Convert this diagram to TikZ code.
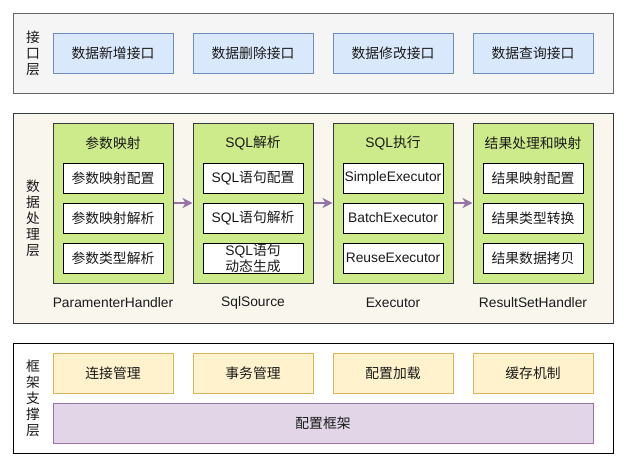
\documentclass[tikz,border=0pt]{standalone}
\usepackage{fontspec}
\setmainfont{Liberation Sans}
\newfontfamily\cjk{Noto Sans CJK SC}
\usetikzlibrary{arrows.meta}
\definecolor{pgrayfill}{HTML}{F5F5F5}
\definecolor{pgraydraw}{HTML}{666666}
\definecolor{pcream}{HTML}{F9F7ED}
\definecolor{pdark}{HTML}{36393D}
\definecolor{bluefill}{HTML}{DAE8FC}
\definecolor{bluedraw}{HTML}{6C8EBF}
\definecolor{greenfill}{HTML}{CDEB8B}
\definecolor{yelfill}{HTML}{FFF2CC}
\definecolor{yeldraw}{HTML}{D6B656}
\definecolor{purfill}{HTML}{E1D5E7}
\definecolor{purdraw}{HTML}{9673A6}
\definecolor{txt}{HTML}{1A1A1A}
\begin{document}
\begin{tikzpicture}[x=1pt,y=-1pt,
  every node/.style={font=\fontsize{13.8}{16}\selectfont, text=txt, inner sep=0pt, align=center},
  side/.style={font=\fontsize{13.8}{16}\selectfont\cjk},
  panel/.style={rectangle, line width=1pt, minimum width=600pt},
  ifbox/.style={rectangle, draw=bluedraw, fill=bluefill, line width=1pt, minimum width=120pt, minimum height=40pt},
  grbox/.style={rectangle, draw=pdark, fill=greenfill, line width=1pt, minimum width=120pt, minimum height=160pt},
  wbox/.style={rectangle, draw=black, fill=white, line width=1pt, minimum width=100pt, minimum height=30pt},
  ybox/.style={rectangle, draw=yeldraw, fill=yelfill, line width=1pt, minimum width=120pt, minimum height=40pt},
  arr/.style={draw=purdraw, line width=2pt, -{Stealth[length=10pt,width=10pt,inset=3pt]}}
]
\useasboundingbox (0,0) rectangle (627,467);
% panels
\node[panel, fill=pgrayfill, draw=pgraydraw, minimum height=80pt] (p1) at (313,53) {};
\node[panel, fill=pcream, draw=pdark, minimum height=210pt] (p2) at (313,218) {};
\node[panel, fill=white, draw=black, minimum height=110pt] (p3) at (313,398) {};
% side labels
\node[side] (l1) at (33,53) {接\\口\\层};
\node[side] (l2) at (33,218) {数\\据\\处\\理\\层};
\node[side] (l3) at (33,398) {框\\架\\支\\撑\\层};
% interface layer
\node[ifbox] (i1) at (113,53) {\cjk 数据新增接口};
\node[ifbox] (i2) at (253,53) {\cjk 数据删除接口};
\node[ifbox] (i3) at (393,53) {\cjk 数据修改接口};
\node[ifbox] (i4) at (533,53) {\cjk 数据查询接口};
% processing layer
\node[grbox] (g1) at (113,203) {};
\node[grbox] (g2) at (253,203) {};
\node[grbox] (g3) at (393,203) {};
\node[grbox] (g4) at (533,203) {};
\node (t1) at (113,143) {\cjk 参数映射};
\node (t2) at (253,143) {SQL{\cjk 解析}};
\node (t3) at (393,143) {SQL{\cjk 执行}};
\node (t4) at (533,143) {\cjk 结果处理和映射};
\node[wbox] (a1) at (113,178) {\cjk 参数映射配置};
\node[wbox] (a2) at (113,218) {\cjk 参数映射解析};
\node[wbox] (a3) at (113,258) {\cjk 参数类型解析};
\node[wbox] (b1) at (253,178) {SQL{\cjk 语句配置}};
\node[wbox] (b2) at (253,218) {SQL{\cjk 语句解析}};
\node[wbox] (b3) at (253,258) {SQL{\cjk 语句}\\{\cjk 动态生成}};
\node[wbox] (c1) at (393,178) {SimpleExecutor};
\node[wbox] (c2) at (393,218) {BatchExecutor};
\node[wbox] (c3) at (393,258) {ReuseExecutor};
\node[wbox] (d1) at (533,178) {\cjk 结果映射配置};
\node[wbox] (d2) at (533,218) {\cjk 结果类型转换};
\node[wbox] (d3) at (533,258) {\cjk 结果数据拷贝};
\node (n1) at (113,303) {ParamenterHandler};
\node (n2) at (253,303) {SqlSource};
\node (n3) at (393,303) {Executor};
\node (n4) at (533,303) {ResultSetHandler};
\draw[arr] (g1.east) -- (g2.west);
\draw[arr] (g2.east) -- (g3.west);
\draw[arr] (g3.east) -- (g4.west);
% framework layer
\node[ybox] (y1) at (113,373) {\cjk 连接管理};
\node[ybox] (y2) at (253,373) {\cjk 事务管理};
\node[ybox] (y3) at (393,373) {\cjk 配置加载};
\node[ybox] (y4) at (533,373) {\cjk 缓存机制};
\node[rectangle, draw=purdraw, fill=purfill, line width=1pt, minimum width=540pt, minimum height=40pt] (f) at (323,423) {\cjk 配置框架};
\end{tikzpicture}
\end{document}
